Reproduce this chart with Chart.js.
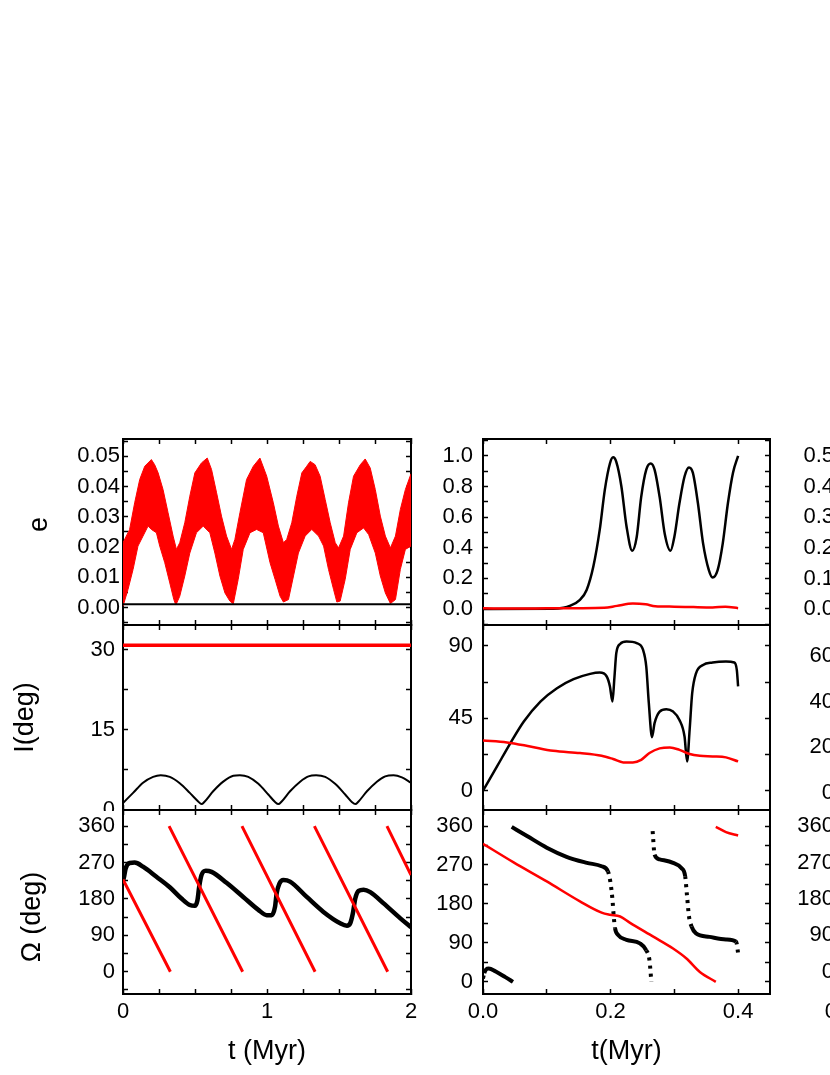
<!DOCTYPE html>
<html>
<head>
<meta charset="utf-8">
<script src="https://cdn.jsdelivr.net/npm/chart.js@4.4.0/dist/chart.umd.min.js"></script>
<style>
  html, body { margin: 0; padding: 0; background: #fff; }
  #fig { position: relative; width: 830px; height: 1075px; overflow: hidden; background: #fff; }
  #fig canvas { position: absolute; }
</style>
</head>
<body>
<div id="fig"></div>
<script>
// ---------- values ----------
// left column, t in Myr
const eUpT = [0, 0.046, 0.081, 0.116, 0.151, 0.197, 0.220, 0.244, 0.278, 0.313, 0.348, 0.371, 0.394, 0.429, 0.464, 0.499, 0.545, 0.585, 0.615, 0.650, 0.684, 0.719, 0.754, 0.777, 0.812, 0.858, 0.905, 0.951, 0.998, 1.044, 1.079, 1.114, 1.137, 1.172, 1.207, 1.242, 1.276, 1.300, 1.334, 1.369, 1.404, 1.439, 1.474, 1.497, 1.532, 1.566, 1.601, 1.648, 1.682, 1.717, 1.752, 1.787, 1.822, 1.857, 1.892, 1.926, 1.961, 2.0];
const eUpV = [0.0214, 0.0258, 0.0346, 0.0423, 0.0467, 0.0489, 0.0472, 0.0445, 0.0390, 0.0313, 0.0236, 0.0192, 0.0214, 0.0280, 0.0368, 0.0445, 0.0478, 0.0494, 0.0456, 0.0379, 0.0302, 0.0236, 0.0192, 0.0225, 0.0313, 0.0423, 0.0467, 0.0494, 0.0434, 0.0346, 0.0269, 0.0214, 0.0225, 0.0280, 0.0368, 0.0445, 0.0467, 0.0483, 0.0472, 0.0434, 0.0357, 0.0280, 0.0214, 0.0197, 0.0236, 0.0346, 0.0434, 0.0472, 0.0491, 0.0461, 0.0390, 0.0302, 0.0236, 0.0197, 0.0236, 0.0324, 0.0390, 0.0442];
const eLoT = [0, 0.035, 0.070, 0.104, 0.139, 0.174, 0.197, 0.232, 0.255, 0.290, 0.325, 0.353, 0.367, 0.394, 0.429, 0.464, 0.510, 0.557, 0.603, 0.638, 0.673, 0.708, 0.742, 0.766, 0.800, 0.835, 0.882, 0.928, 0.974, 1.021, 1.056, 1.091, 1.114, 1.149, 1.184, 1.218, 1.265, 1.311, 1.358, 1.393, 1.427, 1.462, 1.485, 1.508, 1.543, 1.578, 1.624, 1.671, 1.706, 1.752, 1.787, 1.822, 1.857, 1.892, 1.926, 1.961, 2.0];
const eLoV = [0.0004, 0.0060, 0.0126, 0.0203, 0.0236, 0.0269, 0.0258, 0.0247, 0.0203, 0.0148, 0.0081, 0.0026, 0.0008, 0.0037, 0.0104, 0.0180, 0.0247, 0.0269, 0.0247, 0.0180, 0.0104, 0.0048, 0.0021, 0.0012, 0.0093, 0.0192, 0.0247, 0.0258, 0.0247, 0.0148, 0.0093, 0.0037, 0.0018, 0.0026, 0.0104, 0.0180, 0.0236, 0.0258, 0.0236, 0.0203, 0.0126, 0.0060, 0.0018, 0.0021, 0.0093, 0.0192, 0.0247, 0.0263, 0.0241, 0.0180, 0.0104, 0.0048, 0.0013, 0.0026, 0.0126, 0.0192, 0.0203];
const eBlkT = [0, 2];
const eBlkV = [0.0011, 0.0011];

const incRedT = [0, 2];
const incRedV = [30.8, 30.8];
const incBlkT = [0, 0.07, 0.139, 0.209, 0.262, 0.325, 0.394, 0.464, 0.522, 0.545, 0.568, 0.626, 0.696, 0.766, 0.812, 0.87, 0.94, 1.009, 1.056, 1.079, 1.102, 1.16, 1.23, 1.288, 1.341, 1.404, 1.473, 1.543, 1.589, 1.613, 1.636, 1.694, 1.763, 1.821, 1.879, 1.937, 2.0];
const incBlkV = [1.3, 3.2, 5.1, 6.2, 6.5, 6.2, 5.0, 3.2, 1.6, 1.1, 1.6, 3.5, 5.3, 6.4, 6.5, 6.2, 4.9, 2.9, 1.5, 1.1, 1.6, 3.5, 5.3, 6.3, 6.5, 6.2, 4.9, 2.9, 1.5, 1.1, 1.6, 3.5, 5.3, 6.3, 6.5, 6.1, 5.1];

const omBlkT = [0, 0.005, 0.019, 0.046, 0.081, 0.139, 0.232, 0.325, 0.406, 0.464, 0.499, 0.517, 0.529, 0.545, 0.575, 0.615, 0.719, 0.835, 0.94, 0.998, 1.032, 1.056, 1.067, 1.086, 1.114, 1.16, 1.276, 1.392, 1.508, 1.555, 1.578, 1.596, 1.613, 1.636, 1.671, 1.717, 1.81, 1.926, 2.0];
const omBlkV = [225, 231, 256, 269, 270, 260, 235, 209, 181, 165, 163, 177, 210, 239, 250, 247, 220, 185, 153, 140, 140, 161, 194, 218, 227, 223, 185, 148, 120, 114, 120, 144, 181, 200, 203, 197, 169, 132, 110];
const omRedT = [0, 0.329, null, 0.320, 0.831, null, 0.826, 1.334, null, 1.329, 1.838, null, 1.833, 2.0];
const omRedV = [228, 0, null, 360, 0, null, 360, 0, null, 360, 0, null, 360, 239];

// middle column, t in Myr
const e2BlkT = [0, 0.11, 0.126, 0.136, 0.152, 0.1625, 0.173, 0.183, 0.191, 0.199, 0.204, 0.209, 0.217, 0.225, 0.234, 0.241, 0.248, 0.256, 0.263, 0.269, 0.277, 0.285, 0.294, 0.300, 0.308, 0.316, 0.323, 0.329, 0.337, 0.345, 0.354, 0.360, 0.368, 0.376, 0.384, 0.392, 0.400];
const e2BlkV = [0, 0.001, 0.008, 0.02, 0.059, 0.124, 0.277, 0.516, 0.778, 0.95, 0.99, 0.96, 0.80, 0.54, 0.38, 0.47, 0.73, 0.91, 0.95, 0.91, 0.73, 0.49, 0.38, 0.47, 0.69, 0.865, 0.924, 0.89, 0.69, 0.43, 0.255, 0.205, 0.255, 0.43, 0.69, 0.89, 1.0];
const e2RedT = [0, 0.05, 0.1, 0.15, 0.19, 0.21, 0.235, 0.255, 0.27, 0.3, 0.33, 0.36, 0.38, 0.4];
const e2RedV = [0.004, 0.003, 0.004, 0.005, 0.007, 0.02, 0.035, 0.03, 0.018, 0.015, 0.012, 0.01, 0.014, 0.005];

const inc2BlkT = [0, 0.022, 0.043, 0.064, 0.09, 0.116, 0.142, 0.168, 0.183, 0.194, 0.199, 0.203, 0.206, 0.209, 0.215, 0.225, 0.241, 0.251, 0.256, 0.26, 0.265, 0.269, 0.277, 0.2875, 0.298, 0.308, 0.316, 0.32, 0.324, 0.328, 0.334, 0.345, 0.36, 0.381, 0.394, 0.398, 0.4];
const inc2BlkV = [0, 15.1, 29.6, 43, 55.4, 63.7, 69.3, 72.6, 73.4, 71, 64.8, 55.4, 70, 85.5, 91.2, 92.7, 91.7, 87.5, 77.2, 54.4, 33.3, 42, 49.2, 50.7, 49.2, 44, 33.7, 18.2, 37.9, 60.6, 73, 78.2, 79.7, 80.3, 79.7, 75, 64.8];
const inc2RedT = [0, 0.0375, 0.074, 0.11, 0.152, 0.186, 0.204, 0.22, 0.235, 0.248, 0.261, 0.277, 0.293, 0.308, 0.324, 0.34, 0.36, 0.381, 0.4];
const inc2RedV = [31.2, 30, 27.5, 24.8, 23.4, 21.7, 19.7, 17.6, 17.6, 19.2, 23.4, 26.3, 26.9, 25.4, 22.8, 21.7, 21.3, 20.7, 18.2];

const om2BlkT = [0, 0.002, 0.005, 0.009, 0.02, 0.035, 0.047, null, 0.045, 0.069, 0.1, 0.131, 0.163, 0.186, 0.196, 0.2, 0.203, 0.205, 0.207, 0.212, 0.225, 0.246, 0.256, 0.261, 0.264, null, 0.266, 0.269, 0.277, 0.298, 0.311, 0.317, 0.32, 0.323, 0.327, 0.334, 0.355, 0.381, 0.397, 0.4];
const om2BlkV = [8, 20, 29, 31, 24, 11, 0, null, 358, 337, 310, 289, 275, 267, 255, 228, 190, 151, 124, 108, 97, 89, 73, 50, 0, null, 348, 294, 283, 275, 263, 244, 197, 151, 128, 112, 104, 98, 93, 66];
const om2RedT = [0, 0.048, 0.1, 0.152, 0.186, 0.199, 0.215, 0.23, 0.267, 0.298, 0.319, 0.34, 0.365, null, 0.365, 0.381, 0.4];
const om2RedV = [319, 276, 232, 186, 160, 155, 151, 137, 104.5, 77, 54, 23, 0, null, 358, 346, 338];

// axis ranges / tick steps
const xLeft = { min: 0, max: 2, step: 0.25, major: 1, fmt: v => String(Math.round(v)) };
const xMid = { min: 0, max: 0.45, step: 0.1, major: 0.2, fmt: v => v.toFixed(1) };
const xRight = { min: 0, max: 1, step: 0.25, major: 0.5, fmt: v => v.toFixed(1) };
const yE1 = { min: -0.0058, max: 0.0557, step: 0.005, major: 0.01, fmt: v => v.toFixed(2) };
const yI1 = { min: 0, max: 34.6, step: 7.5, major: 15, fmt: v => String(Math.round(v)) };
const yO1 = { min: -55, max: 400, step: 45, major: 90, fmt: v => String(Math.round(v)) };
const yE2 = { min: -0.105, max: 1.11, step: 0.1, major: 0.2, fmt: v => v.toFixed(1) };
const yI2 = { min: -12, max: 103, step: 22.5, major: 45, fmt: v => String(Math.round(v)) };
const yO2 = { min: -28, max: 397, step: 45, major: 90, fmt: v => String(Math.round(v)) };
const yE3 = { min: -0.052, max: 0.556, step: 0.05, major: 0.1, fmt: v => v.toFixed(1) };
const yI3 = { min: -7.4, max: 73.6, step: 10, major: 20, fmt: v => String(Math.round(v)) };
const yO3 = { min: -55, max: 400, step: 45, major: 90, fmt: v => String(Math.round(v)) };

// ---------- layout ----------
const FONT = "'Liberation Sans', Arial, Helvetica, sans-serif";
const TICK_SIZE = 22;
const RED = '#ff0000';
const PT = 3, PR = 14, XH = 81;
const COLS = [
    { left: 123, right: 411, lpad: 123 },
    { left: 483, right: 770, lpad: 75 },
    { left: 840, right: 1127, lpad: 60 }
];
const ROWS = [
    { top: 439, bottom: 625 },
    { top: 625, bottom: 810 },
    { top: 810, bottom: 994 }
];

function pts(ts, vs) {
    return ts.map((t, i) => ({ x: t === null ? ts[i - 1] : t, y: vs[i] }));
}

function isMajor(v, major) {
    const q = v / major;
    return Math.abs(q - Math.round(q)) < 1e-6;
}

function tickList(r) {
    const out = [];
    for (let k = Math.ceil(r.min / r.step - 1e-9); k * r.step <= r.max + 1e-9; k++) {
        out.push({ value: +(k * r.step).toFixed(6) });
    }
    return out;
}

function axis(pos, r, o) {
    const horiz = pos === 'top' || pos === 'bottom';
    return {
        type: 'linear',
        position: pos,
        min: r.min,
        max: r.max,
        afterBuildTicks: s => { s.ticks = tickList(r); },
        afterFit: s => {
            if (horiz) s.height = o.size; else s.width = o.size;
            s.paddingLeft = s.paddingRight = s.paddingTop = s.paddingBottom = 0;
        },
        grid: { drawOnChartArea: false, drawTicks: true, tickLength: -5, tickWidth: 1.5, tickColor: '#000' },
        border: { display: true, color: '#000', width: 2 },
        ticks: {
            display: !!o.labels,
            autoSkip: false,
            maxRotation: 0,
            minRotation: 0,
            padding: o.pad || 0,
            color: '#000',
            font: { family: FONT, size: TICK_SIZE },
            callback: v => isMajor(v, r.major) ? r.fmt(v) : ''
        },
        title: o.title
            ? { display: true, text: o.title, color: '#000', font: { family: FONT, size: 27 }, padding: o.titlePad }
            : { display: false }
    };
}

function panel(ci, ri, xr, yr, datasets, o) {
    const col = COLS[ci], row = ROWS[ri];
    const last = ri === 2;
    const w = col.lpad + (col.right - col.left) + PR;
    const h = PT + (row.bottom - row.top) + (last ? XH : 1);
    const cv = document.createElement('canvas');
    cv.width = w;
    cv.height = h;
    cv.style.width = w + 'px';
    cv.style.height = h + 'px';
    cv.style.left = (col.left - col.lpad) + 'px';
    cv.style.top = (row.top - PT) + 'px';
    document.getElementById('fig').appendChild(cv);

    new Chart(cv, {
        type: 'line',
        data: { datasets: datasets },
        options: {
            responsive: false,
            animation: false,
            devicePixelRatio: 1,
            layout: { padding: { left: 0, top: PT, right: PR, bottom: last ? 0 : 1 } },
            plugins: { legend: { display: false }, tooltip: { enabled: false } },
            elements: { point: { radius: 0 } },
            scales: {
                x: axis('bottom', xr, { size: last ? XH : 0, labels: last, pad: 10, title: o.xTitle, titlePad: { bottom: 7 } }),
                xTop: axis('top', xr, { size: 0 }),
                y: axis('left', yr, { size: col.lpad, labels: true, pad: o.yPad, title: o.yTitle, titlePad: { top: o.yTitlePad } }),
                yRight: axis('right', yr, { size: 0 })
            }
        }
    });
}

function line(ts, vs, color, width, extra) {
    return Object.assign({
        data: pts(ts, vs),
        borderColor: color,
        backgroundColor: color,
        borderWidth: width,
        pointRadius: 0,
        fill: false,
        tension: 0,
        spanGaps: false
    }, extra || {});
}

const smooth = { cubicInterpolationMode: 'monotone' };
const dottedSteep = {
    cubicInterpolationMode: 'monotone',
    borderCapStyle: 'butt',
    segment: {
        borderDash: c => Math.abs(c.p1.y - c.p0.y) > 3 * Math.abs(c.p1.x - c.p0.x) ? [3, 5] : undefined
    }
};

// left column
panel(0, 0, xLeft, yE1, [
    line(eBlkT, eBlkV, '#000', 2),
    line(eUpT, eUpV, RED, 1, { fill: '+1' }),
    line(eLoT, eLoV, RED, 1)
], { yPad: 8, yTitle: '\u00a0\u00a0e', yTitlePad: 23 });

panel(0, 1, xLeft, yI1, [
    line(incRedT, incRedV, RED, 3.5),
    line(incBlkT, incBlkV, '#000', 2, smooth)
], { yPad: 13, yTitle: 'I(deg)', yTitlePad: 9 });

panel(0, 2, xLeft, yO1, [
    line(omRedT, omRedV, RED, 3),
    line(omBlkT, omBlkV, '#000', 4.5, smooth)
], { yPad: 13, yTitle: 'Ω (deg)\u00a0\u00a0\u00a0\u00a0', yTitlePad: 16, xTitle: 't (Myr)' });

// middle column
panel(1, 0, xMid, yE2, [
    line(e2RedT, e2RedV, RED, 2.5, smooth),
    line(e2BlkT, e2BlkV, '#000', 2.5, smooth)
], { yPad: 15 });

panel(1, 1, xMid, yI2, [
    line(inc2RedT, inc2RedV, RED, 2.5, smooth),
    line(inc2BlkT, inc2BlkV, '#000', 2.5, smooth)
], { yPad: 15 });

panel(1, 2, xMid, yO2, [
    line(om2RedT, om2RedV, RED, 2.5, smooth),
    line(om2BlkT, om2BlkV, '#000', 4, dottedSteep)
], { yPad: 15, xTitle: 't(Myr)' });

// right column (only its tick labels reach into the frame)
panel(2, 0, xRight, yE3, [], { yPad: 11 });
panel(2, 1, xRight, yI3, [], { yPad: 11 });
panel(2, 2, xRight, yO3, [], { yPad: 11 });
</script>
</body>
</html>
